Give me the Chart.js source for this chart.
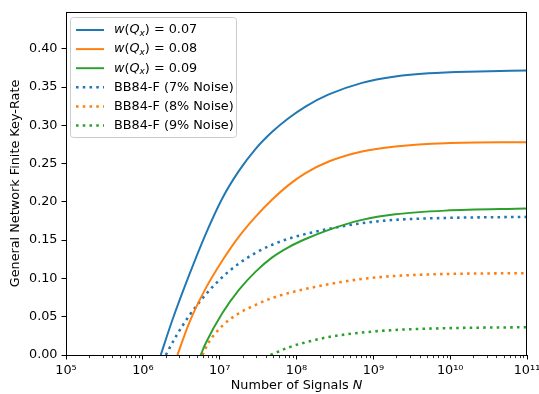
<!DOCTYPE html>
<html>
<head>
<meta charset="utf-8">
<script src="https://cdn.jsdelivr.net/npm/chart.js@4/dist/chart.umd.min.js"></script>
<style>
html, body { margin: 0; padding: 0; background: #fff; }
</style>
</head>
<body>
<canvas id="keyRateChart" width="539" height="394"></canvas>
<script>
// x ticks (powers of ten) and y ticks
const decades = [1e5, 1e6, 1e7, 1e8, 1e9, 1e10, 1e11];
const yTicks = [0, 0.05, 0.10, 0.15, 0.20, 0.25, 0.30, 0.35, 0.40];

// w(Qx) = 0.07
const n007 = [1.71e6, 2.43e6, 3.99e6, 6.58e6, 1.08e7, 1.78e7, 2.94e7, 4.83e7, 7.94e7, 1.31e8, 2.63e8, 7.13e8, 1.93e9, 5.22e9, 2.34e10, 1e11];
const rate007 = [0, 0.046, 0.104, 0.158, 0.2045, 0.2405, 0.2693, 0.2915, 0.3095, 0.3245, 0.3403, 0.3555, 0.3638, 0.368, 0.3704, 0.3717];

// w(Qx) = 0.08
const n008 = [2.82e6, 3.99e6, 6.58e6, 1.08e7, 1.78e7, 2.94e7, 4.83e7, 7.94e7, 1.31e8, 2.63e8, 7.13e8, 1.93e9, 8.61e9, 1e11];
const rate008 = [0, 0.0414, 0.087, 0.123, 0.1545, 0.1807, 0.203, 0.2222, 0.2375, 0.2527, 0.2658, 0.2723, 0.2767, 0.278];

// w(Qx) = 0.09
const n009 = [5.66e6, 6.58e6, 1.08e7, 1.78e7, 2.94e7, 4.83e7, 7.94e7, 1.31e8, 2.63e8, 7.13e8, 1.93e9, 8.61e9, 1e11];
const rate009 = [0, 0.0153, 0.0545, 0.085, 0.1089, 0.1275, 0.141, 0.1515, 0.1635, 0.1765, 0.1838, 0.1886, 0.1913];

// BB84-F 7% / 8% / 9% noise
const nBB7 = [1.99e6, 2.69e6, 3.99e6, 6.58e6, 1.08e7, 1.78e7, 2.94e7, 4.83e7, 7.94e7, 1.31e8, 2.63e8, 7.13e8, 1.93e9, 8.61e9, 1e11];
const rateBB7 = [0, 0.024, 0.051, 0.079, 0.1015, 0.1195, 0.1335, 0.144, 0.152, 0.158, 0.1648, 0.1722, 0.1765, 0.179, 0.1804];

const nBB8 = [5.96e6, 7.26e6, 1.08e7, 1.78e7, 2.94e7, 4.83e7, 7.94e7, 1.31e8, 2.63e8, 7.13e8, 1.93e9, 8.61e9, 1e11];
const rateBB8 = [0, 0.017, 0.038, 0.0545, 0.0655, 0.0745, 0.081, 0.0862, 0.0925, 0.0993, 0.1033, 0.1058, 0.1069];

const nBB9 = [4.59e7, 7.94e7, 1.31e8, 2.63e8, 7.13e8, 1.93e9, 8.61e9, 1e11];
const rateBB9 = [0, 0.010, 0.0165, 0.0235, 0.0293, 0.0327, 0.035, 0.0363];

const blue = '#1f77b4', orange = '#ff7f0e', green = '#2ca02c';
const FONT = '"DejaVu Sans", sans-serif';
const FS = 12.8;
const SOLID_W = 1.95;
const DOT_W = 2.55;
const DOT_DASH = [2.55, 4.2];

function pts(xs, ys) {
    return xs.map((x, i) => ({ x: x, y: ys[i] }));
}

function solid(label, xs, ys, color) {
    return {
        label: label, data: pts(xs, ys), borderColor: color, backgroundColor: color,
        borderWidth: SOLID_W, pointRadius: 0, cubicInterpolationMode: 'monotone', fill: false
    };
}

function dotted(label, xs, ys, color) {
    return {
        label: label, data: pts(xs, ys), borderColor: color, backgroundColor: color,
        borderWidth: DOT_W, borderDash: DOT_DASH, borderCapStyle: 'butt',
        pointRadius: 0, cubicInterpolationMode: 'monotone', fill: false
    };
}

const supDigits = { '0': '⁰', '1': '¹', '2': '²', '3': '³', '4': '⁴', '5': '⁵', '6': '⁶', '7': '⁷', '8': '⁸', '9': '⁹' };
function powLabel(v) {
    const e = Math.round(Math.log10(v));
    return '10' + String(e).split('').map(d => supDigits[d]).join('');
}

// text with italic / subscript pieces
function partsWidth(ctx, parts) {
    let w = 0;
    parts.forEach(p => {
        ctx.font = (p.it ? 'italic ' : '') + (p.sub ? FS * 0.7 : FS) + 'px ' + FONT;
        w += ctx.measureText(p.t).width;
    });
    return w;
}

function drawParts(ctx, x, y, parts) {
    let cx = x;
    parts.forEach(p => {
        ctx.font = (p.it ? 'italic ' : '') + (p.sub ? FS * 0.7 : FS) + 'px ' + FONT;
        ctx.fillText(p.t, cx, p.sub ? y + 3.5 : y);
        cx += ctx.measureText(p.t).width;
    });
}

function wLabel(val) {
    return [
        { t: 'w', it: 1 }, { t: '(' }, { t: 'Q', it: 1 }, { t: 'x', it: 1, sub: 1 },
        { t: ')' }, { t: ' = ' + val }
    ];
}

const legendItems = [
    { parts: wLabel('0.07'), color: blue, dash: false },
    { parts: wLabel('0.08'), color: orange, dash: false },
    { parts: wLabel('0.09'), color: green, dash: false },
    { parts: [{ t: 'BB84-F (7% Noise)' }], color: blue, dash: true },
    { parts: [{ t: 'BB84-F (8% Noise)' }], color: orange, dash: true },
    { parts: [{ t: 'BB84-F (9% Noise)' }], color: green, dash: true }
];

const extras = {
    id: 'extras',
    afterDraw(chart) {
        const ctx = chart.ctx;
        const a = chart.chartArea;
        const xs = chart.scales.x;
        ctx.save();

        // frame
        ctx.strokeStyle = '#000';
        ctx.lineWidth = 1;
        const L = Math.round(a.left) + 0.5, T = Math.round(a.top) + 0.5;
        const R = Math.round(a.right) - 0.5, B = Math.round(a.bottom) + 0.5;
        ctx.strokeRect(L, T, R - L, B - T);

        // minor ticks on log axis
        ctx.lineWidth = 0.8;
        decades.slice(0, -1).forEach(d => {
            for (let m = 2; m <= 9; m++) {
                const px = Math.round(xs.getPixelForValue(m * d)) + 0.5;
                ctx.beginPath();
                ctx.moveTo(px, B);
                ctx.lineTo(px, B + 2.6);
                ctx.stroke();
            }
        });

        // axis titles
        ctx.fillStyle = '#000';
        ctx.textBaseline = 'middle';
        ctx.textAlign = 'left';
        const xParts = [{ t: 'Number of Signals ' }, { t: 'N', it: 1 }];
        drawParts(ctx, (a.left + a.right) / 2 - partsWidth(ctx, xParts) / 2, 386, xParts);

        ctx.save();
        ctx.translate(16, (a.top + a.bottom) / 2);
        ctx.rotate(-Math.PI / 2);
        ctx.textAlign = 'center';
        ctx.font = FS + 'px ' + FONT;
        ctx.fillText('General Network Finite Key-Rate', 0, 0);
        ctx.restore();

        // legend box
        const bx = 70.5, by = 17.5, bw = 166, bh = 120, r = 3;
        ctx.beginPath();
        ctx.moveTo(bx + r, by);
        ctx.arcTo(bx + bw, by, bx + bw, by + bh, r);
        ctx.arcTo(bx + bw, by + bh, bx, by + bh, r);
        ctx.arcTo(bx, by + bh, bx, by, r);
        ctx.arcTo(bx, by, bx + bw, by, r);
        ctx.closePath();
        ctx.fillStyle = 'rgba(255,255,255,0.8)';
        ctx.fill();
        ctx.strokeStyle = '#cccccc';
        ctx.lineWidth = 1;
        ctx.stroke();

        legendItems.forEach((it, i) => {
            const ry = 30 + i * 19.1;
            ctx.strokeStyle = it.color;
            ctx.lineCap = 'butt';
            ctx.lineWidth = it.dash ? DOT_W : SOLID_W;
            ctx.setLineDash(it.dash ? DOT_DASH : []);
            ctx.beginPath();
            ctx.moveTo(76, ry);
            ctx.lineTo(104, ry);
            ctx.stroke();
            ctx.setLineDash([]);
            ctx.fillStyle = '#000';
            ctx.textAlign = 'left';
            ctx.textBaseline = 'middle';
            drawParts(ctx, 114, ry, it.parts);
        });

        ctx.restore();
    }
};

const ctx = document.getElementById('keyRateChart').getContext('2d');

new Chart(ctx, {
    type: 'line',
    data: {
        datasets: [
            solid('w(Qx) = 0.07', n007, rate007, blue),
            solid('w(Qx) = 0.08', n008, rate008, orange),
            solid('w(Qx) = 0.09', n009, rate009, green),
            dotted('BB84-F (7% Noise)', nBB7, rateBB7, blue),
            dotted('BB84-F (8% Noise)', nBB8, rateBB8, orange),
            dotted('BB84-F (9% Noise)', nBB9, rateBB9, green)
        ]
    },
    options: {
        responsive: false,
        animation: false,
        devicePixelRatio: 1,
        layout: { padding: { left: 0, right: 12, top: 12, bottom: 0 } },
        plugins: {
            legend: { display: false },
            tooltip: { enabled: false }
        },
        scales: {
            x: {
                type: 'logarithmic',
                min: 1e5,
                max: 1e11,
                afterBuildTicks: s => { s.ticks = decades.map(v => ({ value: v, major: true })); },
                afterFit: s => { s.height = 39; s.paddingLeft = 0; s.paddingRight = 0; },
                border: { display: false },
                grid: { drawOnChartArea: false, drawTicks: true, tickLength: 4.5, tickColor: '#000', tickWidth: 1 },
                ticks: {
                    color: '#000',
                    font: { family: FONT, size: FS },
                    padding: 3,
                    maxRotation: 0,
                    autoSkip: false,
                    callback: v => powLabel(v)
                }
            },
            y: {
                type: 'linear',
                min: 0,
                max: 0.448,
                afterBuildTicks: s => { s.ticks = yTicks.map(v => ({ value: v })); },
                afterFit: s => { s.width = 66; s.paddingTop = 0; s.paddingBottom = 0; },
                border: { display: false },
                grid: { drawOnChartArea: false, drawTicks: true, tickLength: 4.5, tickColor: '#000', tickWidth: 1 },
                ticks: {
                    color: '#000',
                    font: { family: FONT, size: FS },
                    padding: 4,
                    callback: v => v.toFixed(2)
                }
            }
        }
    },
    plugins: [extras]
});
</script>
</body>
</html>
